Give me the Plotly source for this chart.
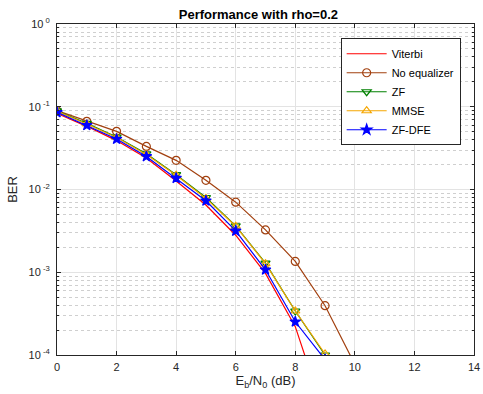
import plotly.graph_objects as go

ebn0 = [0, 1, 2, 3, 4, 5, 6, 7, 8, 9, 10]
ber_viterbi = [0.083, 0.058, 0.039, 0.024, 0.0127, 0.0065, 0.0028, 0.00097, 0.00022, 0.000019, 0.0000015]
ber_noeq = [0.0897, 0.0666, 0.0504, 0.0332, 0.0225, 0.0129, 0.00703, 0.00325, 0.00135, 0.000394, 0.000077]
ber_zf = [0.089, 0.063, 0.043, 0.027, 0.0151, 0.0080, 0.00364, 0.00129, 0.00034, 0.0001, 0.000012]
ber_mmse = [0.088, 0.062, 0.0425, 0.0265, 0.0149, 0.0078, 0.0036, 0.00127, 0.00034, 0.000103, 0.000012]
ber_zfdfe = [0.0855, 0.0596, 0.0407, 0.0251, 0.0137, 0.0073, 0.00316, 0.00107, 0.000252, 0.000088, 0.00001]

x_ticks = [0, 2, 4, 6, 8, 10, 12, 14]
y_ticks = [1e-4, 1e-3, 1e-2, 1e-1, 1]
y_ticklabels = ["10<sup> -4</sup>", "10<sup> -3</sup>", "10<sup> -2</sup>", "10<sup> -1</sup>", "10<sup> 0</sup>"]

series = [
    ("Viterbi", ber_viterbi, "#ff0000", None),
    ("No equalizer", ber_noeq, "#a2400f", "circle-open"),
    ("ZF", ber_zf, "#008000", "triangle-down-open"),
    ("MMSE", ber_mmse, "#f5a600", "triangle-up-open"),
    ("ZF-DFE", ber_zfdfe, "#0000ff", "star"),
]

FONT = "Liberation Sans, Arial"

fig = go.Figure()
for name, ys, color, sym in series:
    if sym is None:
        fig.add_trace(go.Scatter(x=ebn0, y=ys, name=name, mode="lines",
                                 line=dict(color=color, width=1.2)))
    else:
        fig.add_trace(go.Scatter(x=ebn0, y=ys, name=name, mode="lines+markers",
                                 line=dict(color=color, width=1.2),
                                 marker=dict(symbol=sym, size=8,
                                             color=color,
                                             line=dict(color=color, width=1.2))))

axis_common = dict(showline=True, linecolor="#262626", linewidth=1, mirror="ticks",
                   ticks="inside", tickcolor="#262626", ticklen=4,
                   gridcolor="#e3e3e3", gridwidth=1, zeroline=False, automargin=False,
                   tickfont=dict(family=FONT, size=11, color="#262626"))

fig.update_xaxes(range=[0, 14], tickmode="array", tickvals=x_ticks,
                 ticklabelstandoff=2,
                 title=dict(text="E<sub>b</sub>/N<sub>0</sub> (dB)", standoff=2,
                            font=dict(family=FONT, size=13, color="#262626")),
                 **axis_common)
fig.update_yaxes(type="log", range=[-4, 0], tickmode="array", tickvals=y_ticks,
                 ticktext=y_ticklabels, ticklabelstandoff=4,
                 title=dict(text="BER", standoff=8,
                            font=dict(family=FONT, size=13, color="#262626")),
                 minor=dict(showgrid=True, griddash="dot", gridcolor="#cfcfcf",
                            ticks="inside", ticklen=2, tickcolor="#262626", dtick="D1"),
                 **axis_common)

fig.update_layout(
    width=483, height=394,
    margin=dict(l=57, r=9, t=24, b=39),
    paper_bgcolor="white", plot_bgcolor="white",
    title=dict(text="<b>Performance with rho=0.2</b>", x=0.535, xanchor="center",
               y=0.975, yanchor="top",
               font=dict(family=FONT, size=13, color="black")),
    legend=dict(x=0.968, xanchor="right", y=0.957, yanchor="top",
                bgcolor="white", bordercolor="#262626", borderwidth=1,
                font=dict(family=FONT, size=11, color="black"),
                itemwidth=40, tracegroupgap=0),
    showlegend=True,
)

fig.write_html("out.html", config={"displayModeBar": False},
               post_script="document.body.style.margin='0';document.body.style.padding='0';")
